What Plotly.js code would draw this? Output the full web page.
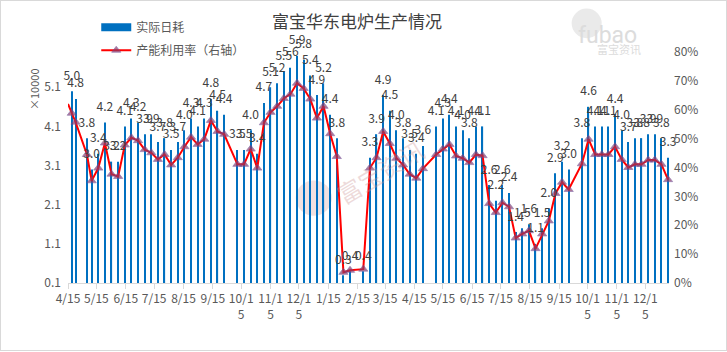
<!DOCTYPE html>
<html>
<head>
<meta charset="utf-8">
<script src="https://cdn.plot.ly/plotly-3.0.1.min.js"></script>
<style>
  html, body { margin: 0; padding: 0; background: #fff; }
  #chart { position: absolute; left: 0; top: 0; width: 725px; height: 349px; border: 1px solid #d9d9d9; }
</style>
</head>
<body>
<div id="chart"></div>
<script>
// ---- data ----
const dates = [
  '2023-04-15','2023-04-19','2023-04-23','2023-05-05','2023-05-10','2023-05-17','2023-05-24','2023-05-31',
  '2023-06-07','2023-06-14','2023-06-21','2023-06-28','2023-07-05','2023-07-12','2023-07-19','2023-07-26',
  '2023-08-02','2023-08-09','2023-08-16','2023-08-23','2023-08-30','2023-09-06','2023-09-13','2023-09-20',
  '2023-09-27','2023-10-11','2023-10-18','2023-10-25','2023-11-01','2023-11-08','2023-11-15','2023-11-22',
  '2023-11-29','2023-12-06','2023-12-13','2023-12-20','2023-12-27','2024-01-03','2024-01-10','2024-01-17',
  '2024-01-24','2024-01-31','2024-02-07','2024-02-21','2024-02-28','2024-03-06','2024-03-13','2024-03-20',
  '2024-03-27','2024-04-03','2024-04-10','2024-04-17','2024-04-24','2024-05-08','2024-05-15','2024-05-22',
  '2024-05-29','2024-06-05','2024-06-12','2024-06-19','2024-06-26','2024-07-03','2024-07-10','2024-07-17',
  '2024-07-24','2024-07-31','2024-08-07','2024-08-14','2024-08-21','2024-08-28','2024-09-04','2024-09-11',
  '2024-09-18','2024-09-25','2024-10-09','2024-10-16','2024-10-23','2024-10-30','2024-11-06','2024-11-13',
  '2024-11-20','2024-11-27','2024-12-04','2024-12-11','2024-12-18','2024-12-25','2025-01-01','2025-01-08'
];
// 实际日耗 (×10000)
const dailyUse = [
  null, 5.0, 4.8, 3.8, 3.0, 3.4, 4.2, 3.2, 3.2, 4.1, 4.3, 4.2, 3.9, 3.9, 3.7, 3.8, 3.5, 3.7, 4.0, 4.3, 4.1, 4.3, 4.8, 4.5, 4.4,
  3.5, 3.5, 4.0, 3.4, 4.7, 5.1, 5.2, 5.5, 5.6, 5.9, 5.8, 5.4, 4.9, 5.2, 4.4, 3.8,
  0.3, 0.4, 0.4, 3.3, 3.9, 4.9, 4.5, 4.0, 3.8, 3.5, 3.4, 3.6,
  4.1, 4.3, 4.4, 4.1, 4.0, 3.8, 4.1, 4.1,
  2.6, 2.2, 2.6, 2.4, 1.4, 1.5, 1.6, 1.1, 1.5, 2.0, 2.9, 3.2, 3.0,
  3.8, 4.6, 4.1, 4.1, 4.1, 4.4, 4.0, 3.7, 3.8, 3.8, 3.9, 3.9, 3.8, 3.3
];
// 产能利用率 (%)
const utilization = [
  62.0, 58.8, 55.7, 44.5, 35.4, 39.8, 48.5, 37.7, 36.9, 47.8, 50.3, 49.3, 46.2, 45.1, 42.8, 44.5, 40.9, 43.4, 47.2, 50.5, 48.0, 49.8, 56.3, 52.5, 51.5,
  41.1, 41.1, 46.4, 39.8, 55.5, 59.1, 61.2, 63.9, 65.4, 69.2, 67.4, 63.7, 57.1, 61.2, 51.7, 43.8,
  3.7, 4.4, 4.8, 39.8, 43.4, 52.5, 48.3, 43.2, 40.9, 37.7, 36.3, 39.6,
  44.5, 46.4, 48.0, 44.0, 43.2, 41.7, 44.5, 44.1,
  27.5, 24.4, 27.8, 26.4, 15.6, 17.0, 18.1, 11.9, 17.0, 21.5, 31.0, 34.9, 32.4,
  41.3, 49.8, 44.5, 44.5, 44.5, 47.2, 42.8, 40.0, 41.1, 41.1, 42.6, 42.6, 41.1, 35.8
];
const tickDates = [
  '2023-04-15','2023-05-15','2023-06-15','2023-07-15','2023-08-15','2023-09-15','2023-10-15','2023-11-15','2023-12-15',
  '2024-01-15','2024-02-15','2024-03-15','2024-04-15','2024-05-15','2024-06-15','2024-07-15','2024-08-15','2024-09-15',
  '2024-10-15','2024-11-15','2024-12-15'
];
const tickLabels = [
  '4/15','5/15','6/15','7/15','8/15','9/15','10/1<br>5','11/1<br>5','12/1<br>5',
  '1/15','2/15','3/15','4/15','5/15','6/15','7/15','8/15','9/15',
  '10/1<br>5','11/1<br>5','12/1<br>5'
];
const leftTicks = [0.1, 1.1, 2.1, 3.1, 4.1, 5.1];
const seriesNames = ['实际日耗', '产能利用率（右轴）'];

// ---- build ----
const FONT = '"Noto Sans CJK SC", "Microsoft YaHei", sans-serif';
const DAY = 86400000;
const barX = [], barY = [], barText = [];
dates.forEach((d, i) => { if (dailyUse[i] != null) { barX.push(d); barY.push(dailyUse[i]); barText.push(dailyUse[i].toFixed(1)); } });

const traces = [
  { type: 'bar', x: barX, y: barY, width: barX.map(() => 1.2 * DAY), marker: { color: '#0070C0', line: { width: 0 } },
    showlegend: false, hoverinfo: 'x+y', yaxis: 'y' },
  { type: 'scatter', mode: 'lines', x: [null], y: [null], name: seriesNames[0],
    line: { color: '#0070C0', width: 8 }, legendgroup: 'a', yaxis: 'y' },
  { type: 'scatter', mode: 'lines+markers', x: dates, y: utilization, name: seriesNames[1], yaxis: 'y2',
    legendgroup: 'b', cliponaxis: false,
    line: { color: '#FF0000', width: 2 },
    marker: { symbol: 'triangle-up', size: dailyUse.map(v => v == null ? 0 : 8), color: '#8E3A66',
              line: { color: '#6E4C96', width: 0.8 } } },
  { type: 'scatter', mode: 'markers+text', x: barX, y: barY, text: barText, yaxis: 'y3',
    textposition: 'top center', textfont: { family: FONT, size: 12, color: '#404040' },
    marker: { size: 12, opacity: 0 }, showlegend: false, hoverinfo: 'skip', cliponaxis: false }
];

const layout = {
  width: 725, height: 349,
  margin: { l: 67, r: 57, t: 48, b: 67 },
  paper_bgcolor: '#ffffff', plot_bgcolor: 'rgba(0,0,0,0)',
  font: { family: FONT, size: 12, color: '#595959' },
  title: { text: '富宝华东电炉生产情况', font: { family: FONT, size: 17, color: '#404040' },
           x: 0.491, xref: 'container', xanchor: 'center', y: 0.94, yref: 'container', yanchor: 'middle' },
  bargap: 0.7,
  xaxis: { type: 'date', range: ['2023-04-15', '2025-01-09'], tickmode: 'array', tickvals: tickDates, ticktext: tickLabels,
           showgrid: false, zeroline: false, showline: true, linecolor: '#d9d9d9', linewidth: 1,
           ticks: 'outside', ticklen: 5, tickcolor: '#d9d9d9', tickangle: 0,
           tickfont: { family: FONT, size: 12, color: '#595959' } },
  yaxis: { range: [0.1, 6.0], tickmode: 'array', tickvals: leftTicks, ticktext: leftTicks.map(v => v.toFixed(1)),
           showgrid: false, zeroline: false, showline: false, ticks: '', ticklabelstandoff: 6,
           tickfont: { family: FONT, size: 12, color: '#595959' } },
  yaxis2: { range: [0, 80], dtick: 10, ticksuffix: '%', overlaying: 'y', side: 'right',
            showgrid: false, zeroline: false, showline: false, ticks: '', ticklabelstandoff: 4,
            tickfont: { family: FONT, size: 12, color: '#595959' } },
  yaxis3: { range: [0.1, 6.0], overlaying: 'y', visible: false },
  legend: { x: 0.047, y: 1.17, xanchor: 'left', yanchor: 'top', bgcolor: 'rgba(0,0,0,0)',
            font: { family: FONT, size: 12, color: '#595959' }, traceorder: 'grouped', tracegroupgap: 4,
            itemwidth: 30 },
  shapes: [
    { type: 'circle', xref: 'paper', yref: 'paper', x0: 0.379, x1: 0.439, y0: 0.291, y1: 0.444,
      fillcolor: 'rgba(215,170,170,0.35)', line: { width: 0 }, layer: 'below' },
    { type: 'circle', xref: 'paper', yref: 'paper', x0: 0.838, x1: 0.888, y0: 1.06, y1: 1.188,
      fillcolor: 'rgba(225,225,225,0.7)', line: { width: 0 } }
  ],
  annotations: [
    { text: '×10000', xref: 'paper', yref: 'paper', x: -0.073, y: 0.94, textangle: -90, showarrow: false,
      font: { family: FONT, size: 11, color: '#595959' } },
    { text: '富宝资讯', xref: 'paper', yref: 'paper', x: 0.519, y: 0.483, textangle: -31, showarrow: false,
      font: { family: FONT, size: 24, color: 'rgba(205,150,150,0.35)' } },
    { text: 'fubao', xref: 'paper', yref: 'paper', x: 0.95, y: 1.14, showarrow: false,
      font: { family: 'Roboto, Arial, sans-serif', size: 23, color: '#dcdcdc' } },
    { text: '富宝资讯', xref: 'paper', yref: 'paper', x: 0.957, y: 1.056, showarrow: false,
      font: { family: FONT, size: 11, color: '#dcdcdc' } }
  ]
};

Plotly.newPlot('chart', traces, layout, { displayModeBar: false, responsive: false });
</script>
</body>
</html>
